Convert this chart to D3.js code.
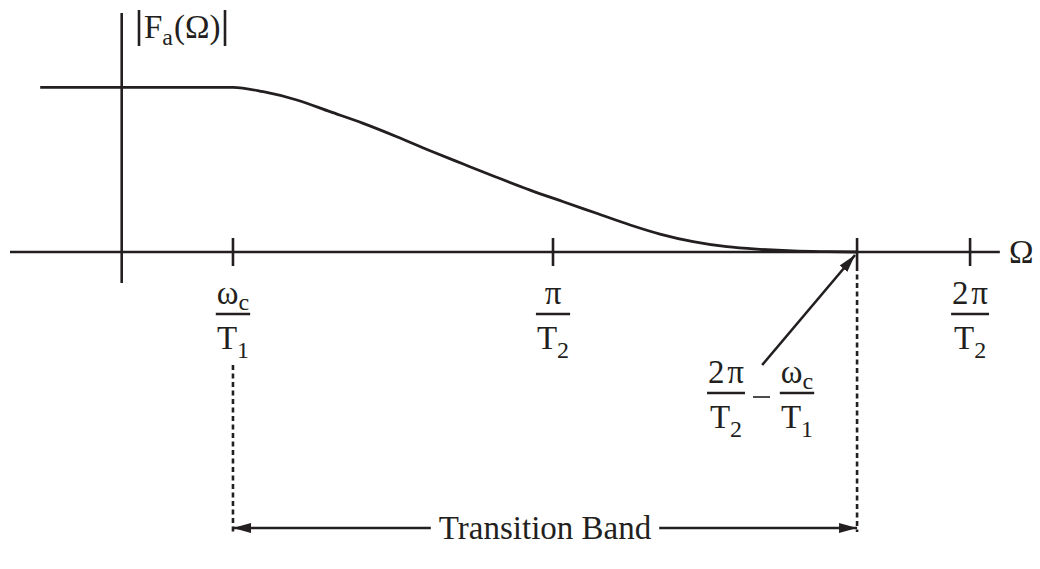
<!DOCTYPE html>
<html>
<head>
<meta charset="utf-8">
<script src="https://cdn.jsdelivr.net/npm/d3@7"></script>
<style>
  html, body { margin: 0; padding: 0; background: #fff; }
  svg { display: block; }
  text { font-family: "Liberation Serif", "Times New Roman", serif; fill: #231f20; }
</style>
</head>
<body>
<svg id="chart" width="1040" height="569"></svg>
<script>
// Frequency axis in units of pi/T2, magnitude normalised to the passband level.
const omegaTicks = [0.258, 1.0, 1.705, 1.967];
const tickNumerators = [["ω", "c"], ["π", ""], ["2\u200Aπ", ""]];
const tickDenominators = [["T", "1"], ["T", "2"], ["T", "2"]];
const tickLabelAt = [0, 1, 3];          // which ticks carry a fraction under them

// |Fa(Ω)|: flat passband, then a smooth roll-off to zero across the transition band
const curveOmega = [-0.189, 0.0, 0.258, 0.328, 0.406, 0.483, 0.560, 0.638, 0.715, 0.792, 0.869, 0.947, 1.024, 1.101, 1.179, 1.248, 1.325, 1.403, 1.480, 1.557, 1.635, 1.705];
const curveMag   = [1.0, 1.0, 1.0, 0.973, 0.923, 0.852, 0.781, 0.700, 0.615, 0.534, 0.454, 0.376, 0.305, 0.235, 0.164, 0.109, 0.063, 0.032, 0.016, 0.006, 0.002, 0.0];

const axisOmega = [-0.259, 2.036];
const axisMag = [-0.188, 1.451];

const ink = "#231f20";
const svg = d3.select("#chart");
const x = d3.scaleLinear().domain([0, 1]).range([121.7, 553]);
const y = d3.scaleLinear().domain([0, 1]).range([252, 87.3]);

const FS = 33, SUB = 24;

const defs = svg.append("defs");
defs.append("marker")
  .attr("id", "head").attr("viewBox", "0 0 18 10").attr("refX", 18).attr("refY", 5)
  .attr("markerWidth", 18).attr("markerHeight", 10).attr("markerUnits", "userSpaceOnUse")
  .attr("orient", "auto-start-reverse")
  .append("path").attr("d", "M0,0 L18,5 L0,10 Z").attr("fill", ink);

// axes
svg.append("line")
  .attr("x1", x(axisOmega[0])).attr("x2", x(axisOmega[1]))
  .attr("y1", y(0)).attr("y2", y(0))
  .attr("stroke", ink).attr("stroke-width", 2.6);
svg.append("line")
  .attr("x1", x(0)).attr("x2", x(0))
  .attr("y1", y(axisMag[0])).attr("y2", y(axisMag[1]))
  .attr("stroke", ink).attr("stroke-width", 2.6);

// tick marks straddle the frequency axis
svg.selectAll("line.tick").data(omegaTicks).join("line")
  .attr("class", "tick")
  .attr("x1", d => x(d)).attr("x2", d => x(d))
  .attr("y1", y(0) - 14).attr("y2", y(0) + 14)
  .attr("stroke", ink).attr("stroke-width", 2.6);

// magnitude response
const line = d3.line().x((d, i) => x(curveOmega[i])).y(d => y(d)).curve(d3.curveMonotoneX);
svg.append("path").datum(curveMag)
  .attr("d", line).attr("fill", "none")
  .attr("stroke", ink).attr("stroke-width", 2.8);

// stacked fraction: numerator, bar, denominator, each optionally with a subscript
function fraction(g, cx, base, num, den) {
  const n = g.append("text").attr("x", cx).attr("y", base).attr("text-anchor", "middle").attr("font-size", FS);
  n.append("tspan").text(num[0]);
  if (num[1]) n.append("tspan").attr("font-size", SUB).attr("dy", 6).text(num[1]);
  const d = g.append("text").attr("x", cx).attr("y", base + 45).attr("text-anchor", "middle").attr("font-size", FS);
  d.append("tspan").text(den[0]);
  if (den[1]) d.append("tspan").attr("font-size", SUB).attr("dy", 9).text(den[1]);
  const w = Math.max(n.node().getComputedTextLength(), d.node().getComputedTextLength()) + 2;
  g.append("line").attr("x1", cx - w / 2).attr("x2", cx + w / 2)
    .attr("y1", base + 10).attr("y2", base + 10)
    .attr("stroke", ink).attr("stroke-width", 2.6);
}

tickLabelAt.forEach((ti, k) => {
  fraction(svg.append("g"), x(omegaTicks[ti]), 304, tickNumerators[k], tickDenominators[k]);
});

// 2π/T2 − ωc/T1 annotation
const ann = svg.append("g");
fraction(ann, 726, 383, ["2\u200Aπ", ""], ["T", "2"]);
fraction(ann, 797, 383, ["ω", "c"], ["T", "1"]);
ann.append("line").attr("x1", 753).attr("x2", 770).attr("y1", 397).attr("y2", 397)
  .attr("stroke", ink).attr("stroke-width", 1.6);
svg.append("line")
  .attr("x1", x(1.485)).attr("y1", y(-0.686))
  .attr("x2", x(omegaTicks[2]) - 2).attr("y2", y(0) + 3)
  .attr("stroke", ink).attr("stroke-width", 2.6)
  .attr("marker-end", "url(#head)");

// Ω axis label
svg.append("text").attr("x", 1009).attr("y", 263).attr("font-size", FS).text("Ω");

// |Fa(Ω)| label
const yl = svg.append("g");
yl.append("line").attr("x1", 139).attr("x2", 139).attr("y1", 10).attr("y2", 46).attr("stroke", ink).attr("stroke-width", 2.6);
yl.append("line").attr("x1", 225).attr("x2", 225).attr("y1", 10).attr("y2", 46).attr("stroke", ink).attr("stroke-width", 2.6);
const yt = yl.append("text").attr("x", 144).attr("y", 38).attr("font-size", FS);
yt.append("tspan").text("F");
yt.append("tspan").attr("font-size", SUB).attr("dy", 7).text("a");
yt.append("tspan").attr("dy", -7).attr("dx", 1).text("(Ω)");

// transition band
const bandY = 528;
[omegaTicks[0], omegaTicks[2]].forEach((d, i) => {
  svg.append("line")
    .attr("x1", x(d)).attr("x2", x(d))
    .attr("y1", i === 0 ? 365 : y(0) + 14).attr("y2", bandY + 4)
    .attr("stroke", ink).attr("stroke-width", 2.6)
    .attr("stroke-dasharray", "5,3.5");
});
const mid = (x(omegaTicks[0]) + x(omegaTicks[2])) / 2;
const bandText = svg.append("text")
  .attr("x", mid).attr("y", bandY + 11)
  .attr("text-anchor", "middle").attr("font-size", FS).text("Transition Band");
const tw = bandText.node().getComputedTextLength();
svg.append("line").attr("x1", mid - tw / 2 - 8).attr("x2", x(omegaTicks[0]))
  .attr("y1", bandY).attr("y2", bandY)
  .attr("stroke", ink).attr("stroke-width", 2.6).attr("marker-end", "url(#head)");
svg.append("line").attr("x1", mid + tw / 2 + 8).attr("x2", x(omegaTicks[2]))
  .attr("y1", bandY).attr("y2", bandY)
  .attr("stroke", ink).attr("stroke-width", 2.6).attr("marker-end", "url(#head)");
</script>
</body>
</html>
